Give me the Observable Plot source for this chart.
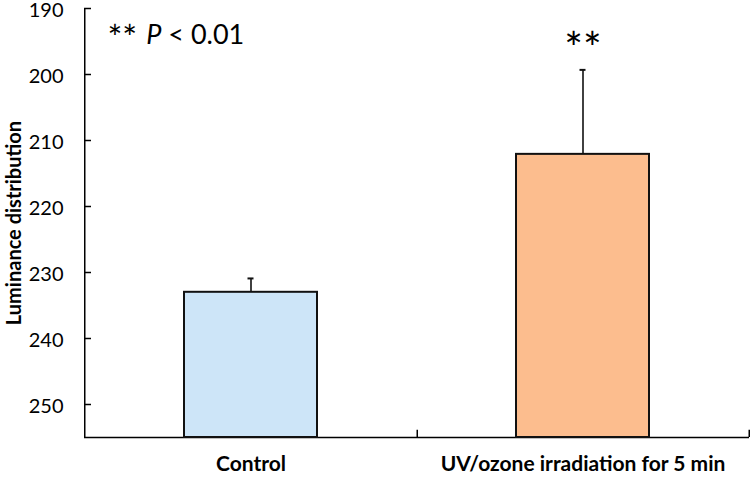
<!DOCTYPE html>
<html>
<head>
<meta charset="utf-8">
<script src="https://cdn.jsdelivr.net/npm/d3@7"></script>
<script src="https://cdn.jsdelivr.net/npm/@observablehq/plot@0.6"></script>
<style>
  body { margin: 0; background: #fff; }
  svg { font-family: Lato, "Open Sans", sans-serif; }
</style>
</head>
<body>
<div id="chart"></div>
<script>
const categories = ["Control", "UV/ozone irradiation for 5 min"];
const means = [233.0, 212.1];
const errors = [2.1, 12.8];
const colors = ["#cde5f8", "#fcbd8e"];
const yTicks = [190, 200, 210, 220, 230, 240, 250];
const yDomain = [190, 255];
const yLabel = "Luminance distribution";
const sigMarks = [{cat: "UV/ozone irradiation for 5 min", y: 195.1, label: "**"}];
const pNote = "** P < 0.01";

const data = categories.map((c, i) => ({cat: c, mean: means[i], err: errors[i], color: colors[i]}));
const yBase = yDomain[1];

const W = 750, H = 479, ML = 84, MR = 1, MT = 8, MB = 42;
const step = (W - ML - MR) / categories.length;
const bw = step * 0.4;

const chart = Plot.plot({
  width: W, height: H,
  marginLeft: ML, marginRight: MR, marginTop: MT, marginBottom: MB,
  x: {domain: categories, paddingInner: 0.6, paddingOuter: 0.3, align: 0.5},
  y: {domain: yDomain, reverse: true},
  marks: [
    Plot.axisY({ticks: yTicks, tickSize: 0, tickPadding: 21, fontSize: 20, label: null, color: "#000", dy: 2}),
    Plot.tickY(yTicks, {y: d => d, stroke: "#000", strokeWidth: 1.5, insetRight: W - ML - MR - 7}),
    Plot.axisX({tickSize: 0, tickPadding: 19, fontSize: 21, fontWeight: "bold", label: null, color: "#000"}),
    Plot.ruleY([yBase], {stroke: "#000", strokeWidth: 1.5}),
    Plot.ruleX([categories[0]], {x: d => d, dx: -step / 2, y1: yDomain[0], y2: yBase, stroke: "#000", strokeWidth: 1.5}),
    Plot.ruleX(categories, {x: d => d, dx: step / 2, y1: yBase, y2: yBase - 1.1, stroke: "#000", strokeWidth: 1.5}),
    Plot.barY(data, {x: "cat", y1: () => yBase, y2: "mean", fill: "color", stroke: "#111", strokeWidth: 2}),
    Plot.ruleX(data, {x: "cat", y1: "mean", y2: d => d.mean - d.err, stroke: "#111", strokeWidth: 1.6}),
    Plot.tickY(data, {x: "cat", y: d => d.mean - d.err, stroke: "#111", strokeWidth: 2, insetLeft: bw / 2 - 3, insetRight: bw / 2 - 3}),
    Plot.text(sigMarks, {x: "cat", y: "y", text: "label", fontSize: 44, dy: 8, fill: "#000"}),
    Plot.text([pNote], {frameAnchor: "top-left", dx: 23, dy: 25, lineAnchor: "middle", textAnchor: "start", fontSize: 27, fill: "#000", className: "pnote"}),
    Plot.text([yLabel], {frameAnchor: "left", dx: -70, rotate: -90, textAnchor: "middle", fontSize: 20, fontWeight: "bold", fill: "#000"})
  ]
});

// italicise the P in the significance note
d3.select(chart).selectAll(".pnote text").each(function() {
  const t = d3.select(this);
  const s = t.text();
  const idx = s.indexOf("P");
  if (idx < 0) return;
  t.text(null);
  t.append("tspan").attr("font-size", 35).attr("dy", "0.22em").text(s.slice(0, idx));
  t.append("tspan").attr("font-style", "italic").attr("dy", "-0.22em").text("P");
  t.append("tspan").text(s.slice(idx + 1));
});

document.getElementById("chart").appendChild(chart);
</script>
</body>
</html>
